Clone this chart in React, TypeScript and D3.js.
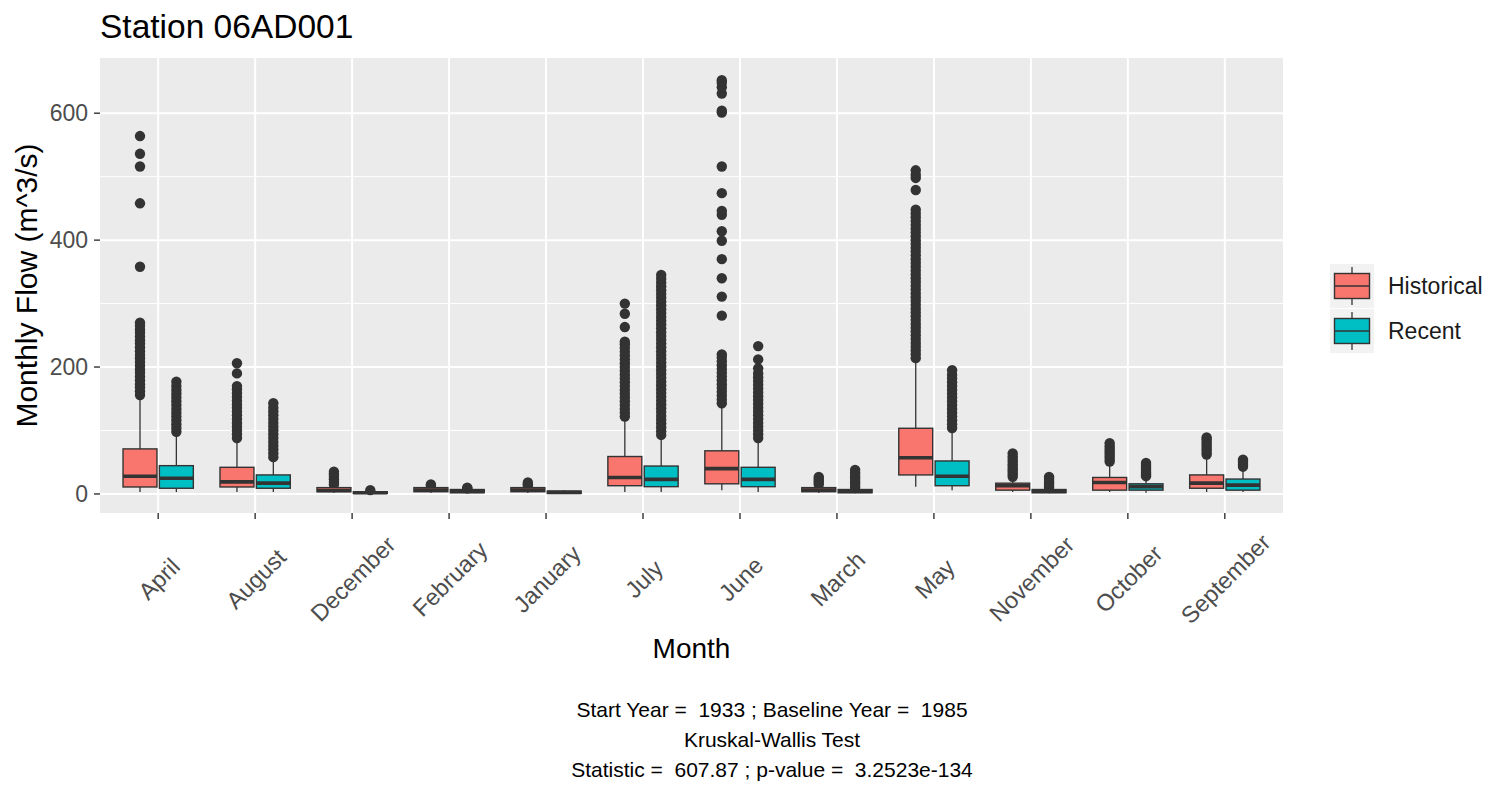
import React, { useEffect } from 'react';
import * as d3 from 'd3';

// months in the (alphabetical) order used by the plot
const MONTHS = ['April', 'August', 'December', 'February', 'January', 'July', 'June', 'March', 'May', 'November', 'October', 'September'];
const SERIES = ['Historical', 'Recent'];
const COLORS = ['#F8766D', '#00BFC4'];
const Y_TICKS = [0, 200, 400, 600];
const Y_MINOR = [100, 300, 500];
const Y_DOMAIN = [-30, 687];

// Historical box stats
const H_LO = [3, 3, 1.5, 1.5, 1.5, 3, 6, 1.5, 11.5, 3, 3, 3];
const H_Q1 = [11, 11, 3.5, 3.5, 3.5, 13, 16, 3.5, 30, 6, 6, 9];
const H_MED = [28, 19, 5.5, 6, 6, 26, 40, 6, 57, 13, 18, 17];
const H_Q3 = [71, 42, 10, 10, 10, 59, 68, 10, 103.5, 17, 26, 30];
const H_HI = [153, 85, 14, 12, 12, 119, 140, 14, 210, 25, 48, 59];
const H_OUT = [
  [156, 162, 168, 173, 179, 185, 191, 196, 202, 208, 214, 219, 225, 231, 237, 242, 248, 254, 259, 265, 270, 358, 458, 516, 536, 564],
  [88, 94, 100, 106, 112, 118, 124, 130, 136, 141, 147, 153, 159, 165, 170, 190, 206],
  [15, 19, 23, 27, 31, 35],
  [13, 15],
  [13, 15.5, 18],
  [122, 128, 134, 140, 146, 152, 158, 164, 170, 176, 182, 188, 194, 200, 206, 212, 218, 224, 230, 236, 240, 263, 284, 300],
  [143, 149, 155, 161, 167, 173, 179, 185, 191, 197, 203, 209, 215, 220, 281, 311, 340, 370, 399, 414, 440, 446, 474, 516, 601, 604, 631, 641, 648, 652],
  [15, 18, 21, 24, 27],
  [214, 220, 226, 232, 238, 244, 250, 256, 262, 268, 274, 280, 286, 292, 298, 304, 310, 316, 322, 328, 334, 340, 346, 352, 358, 364, 370, 376, 382, 388, 394, 400, 406, 412, 418, 424, 430, 436, 442, 448, 479, 498, 503, 510],
  [27, 31, 35, 39, 43, 47, 51, 55, 59, 64],
  [51, 55, 59, 63, 67, 71, 75, 80],
  [62, 66, 70, 74, 78, 82, 86, 89],
];

// Recent box stats
const R_LO = [3, 3, 0.5, 1, 0.5, 3, 3, 1, 6, 1, 2, 3];
const R_Q1 = [9, 9, 1, 2, 1, 11.5, 11.5, 2, 13, 2, 6, 6];
const R_MED = [24.7, 17, 2, 4, 2.5, 23, 23, 4, 28, 4, 11.5, 14];
const R_Q3 = [44.6, 30, 3.5, 7, 4.5, 44, 42, 7, 52, 7, 16, 23.5];
const R_HI = [95, 56, 5, 8, 6, 90, 85, 9, 101, 9, 25, 40];
const R_OUT = [
  [98, 104, 110, 116, 122, 128, 134, 140, 146, 152, 158, 164, 170, 177],
  [58, 64, 70, 76, 82, 88, 94, 100, 106, 112, 118, 124, 130, 136, 143],
  [6],
  [9, 10],
  [],
  [93, 99, 105, 111, 117, 123, 129, 135, 141, 147, 153, 159, 165, 171, 177, 183, 189, 195, 201, 207, 213, 219, 225, 231, 237, 243, 249, 255, 261, 267, 273, 279, 285, 291, 297, 303, 309, 315, 321, 327, 333, 339, 345],
  [88, 94, 100, 106, 112, 118, 124, 130, 136, 142, 148, 154, 160, 166, 172, 178, 184, 190, 198, 212, 233],
  [10, 14, 18, 22, 26, 30, 34, 38],
  [104, 110, 116, 122, 128, 134, 140, 146, 152, 158, 164, 170, 176, 182, 188, 195],
  [10, 13, 16, 19, 22, 25, 27],
  [28, 31, 34, 37, 40, 43, 46, 49],
  [43, 46, 49, 52, 54],
];

const CAPTION = [
  'Start Year =  1933 ; Baseline Year =  1985',
  'Kruskal-Wallis Test',
  'Statistic =  607.87 ; p-value =  3.2523e-134',
];

const FONT = "'Liberation Sans', Arial, Helvetica, sans-serif";

export default function App() {
  useEffect(() => {
    document.body.style.margin = '0';
    document.body.style.overflow = 'hidden';
  }, []);

  const width = 1492;
  const height = 791;
  const panel = { left: 100, right: 1283, top: 58, bottom: 513 };

  const x = d3.scalePoint().domain(MONTHS).range([panel.left, panel.right]).padding(0.6);
  const y = d3.scaleLinear().domain(Y_DOMAIN).range([panel.bottom, panel.top]);
  const step = x.step();
  const boxW = step * 0.35;
  const offset = step * 0.1875;

  const groups = MONTHS.flatMap((m, i) => [
    { month: m, s: 0, lo: H_LO[i], q1: H_Q1[i], med: H_MED[i], q3: H_Q3[i], hi: H_HI[i], out: H_OUT[i] },
    { month: m, s: 1, lo: R_LO[i], q1: R_Q1[i], med: R_MED[i], q3: R_Q3[i], hi: R_HI[i], out: R_OUT[i] },
  ]);

  const keyX = 1330;
  const keyTops = [264, 309];
  const keySize = 44;

  return (
    <svg width={width} height={height} style={{ position: 'absolute', left: 0, top: 0, background: '#fff' }} fontFamily={FONT}>
      <rect x={0} y={0} width={width} height={height} fill="#fff" />
      {/* panel */}
      <rect x={panel.left} y={panel.top} width={panel.right - panel.left} height={panel.bottom - panel.top} fill="#EBEBEB" />
      {Y_MINOR.map((v) => (
        <line key={'mn' + v} x1={panel.left} x2={panel.right} y1={y(v)} y2={y(v)} stroke="#fff" strokeWidth={1} />
      ))}
      {Y_TICKS.map((v) => (
        <line key={'mj' + v} x1={panel.left} x2={panel.right} y1={y(v)} y2={y(v)} stroke="#fff" strokeWidth={2} />
      ))}
      {MONTHS.map((m) => (
        <line key={'vx' + m} x1={x(m)} x2={x(m)} y1={panel.top} y2={panel.bottom} stroke="#fff" strokeWidth={2} />
      ))}

      {/* boxes */}
      {groups.map((g, i) => {
        const cx = (x(g.month) as number) + (g.s === 0 ? -offset : offset);
        return (
          <g key={'b' + i}>
            {g.out.map((v, j) => (
              <circle key={j} cx={cx} cy={y(v)} r={5.2} fill="#333333" />
            ))}
            <line x1={cx} x2={cx} y1={y(g.hi)} y2={y(g.q3)} stroke="#333333" strokeWidth={1.3} />
            <line x1={cx} x2={cx} y1={y(g.q1)} y2={y(g.lo)} stroke="#333333" strokeWidth={1.3} />
            <rect x={cx - boxW / 2} y={y(g.q3)} width={boxW} height={Math.max(0, y(g.q1) - y(g.q3))} fill={COLORS[g.s]} stroke="#333333" strokeWidth={1.4} />
            <line x1={cx - boxW / 2} x2={cx + boxW / 2} y1={y(g.med)} y2={y(g.med)} stroke="#333333" strokeWidth={3.6} />
          </g>
        );
      })}

      {/* y axis */}
      {Y_TICKS.map((v) => (
        <g key={'yt' + v}>
          <line x1={panel.left - 6} x2={panel.left} y1={y(v)} y2={y(v)} stroke="#333333" strokeWidth={1.4} />
          <text x={panel.left - 12} y={y(v)} textAnchor="end" dominantBaseline="central" fontSize={23} fill="#4D4D4D">{v}</text>
        </g>
      ))}
      {/* x axis */}
      {MONTHS.map((m) => {
        const tx = (x(m) as number) + 1;
        const ty = 579;
        return (
          <g key={'xt' + m}>
            <line x1={x(m)} x2={x(m)} y1={panel.bottom} y2={panel.bottom + 6} stroke="#333333" strokeWidth={1.4} />
            <text x={tx} y={ty} transform={`rotate(-45, ${tx}, ${ty})`} textAnchor="middle" dominantBaseline="central" fontSize={23.5} fill="#4D4D4D">{m}</text>
          </g>
        );
      })}

      {/* titles */}
      <text x={panel.left} y={38} fontSize={33.5} fill="#000">Station 06AD001</text>
      <text x={(panel.left + panel.right) / 2} y={658} textAnchor="middle" fontSize={28} fill="#000">Month</text>
      <text transform={`translate(26, ${(panel.top + panel.bottom) / 2}) rotate(-90)`} textAnchor="middle" dominantBaseline="central" fontSize={30} fill="#000">Monthly Flow (m^3/s)</text>

      {/* legend */}
      {SERIES.map((s, i) => {
        const top = keyTops[i];
        const cx = keyX + keySize / 2;
        const cy = top + keySize / 2;
        return (
          <g key={'lg' + s}>
            <rect x={keyX} y={top} width={keySize} height={keySize} fill="#F2F2F2" />
            <line x1={cx} x2={cx} y1={cy - 19} y2={cy + 19} stroke="#333333" strokeWidth={1.3} />
            <rect x={cx - 17.5} y={cy - 12.5} width={35} height={25} fill={COLORS[i]} stroke="#333333" strokeWidth={1.4} />
            <line x1={cx - 17.5} x2={cx + 17.5} y1={cy} y2={cy} stroke="#333333" strokeWidth={1.4} />
            <text x={keyX + keySize + 14} y={cy} dominantBaseline="central" fontSize={23} fill="#1a1a1a">{s}</text>
          </g>
        );
      })}

      {/* caption */}
      {CAPTION.map((c, i) => (
        <text key={'cap' + i} x={772} y={717 + i * 30} textAnchor="middle" fontSize={21} fill="#000" style={{ whiteSpace: 'pre' }}>{c}</text>
      ))}
    </svg>
  );
}
